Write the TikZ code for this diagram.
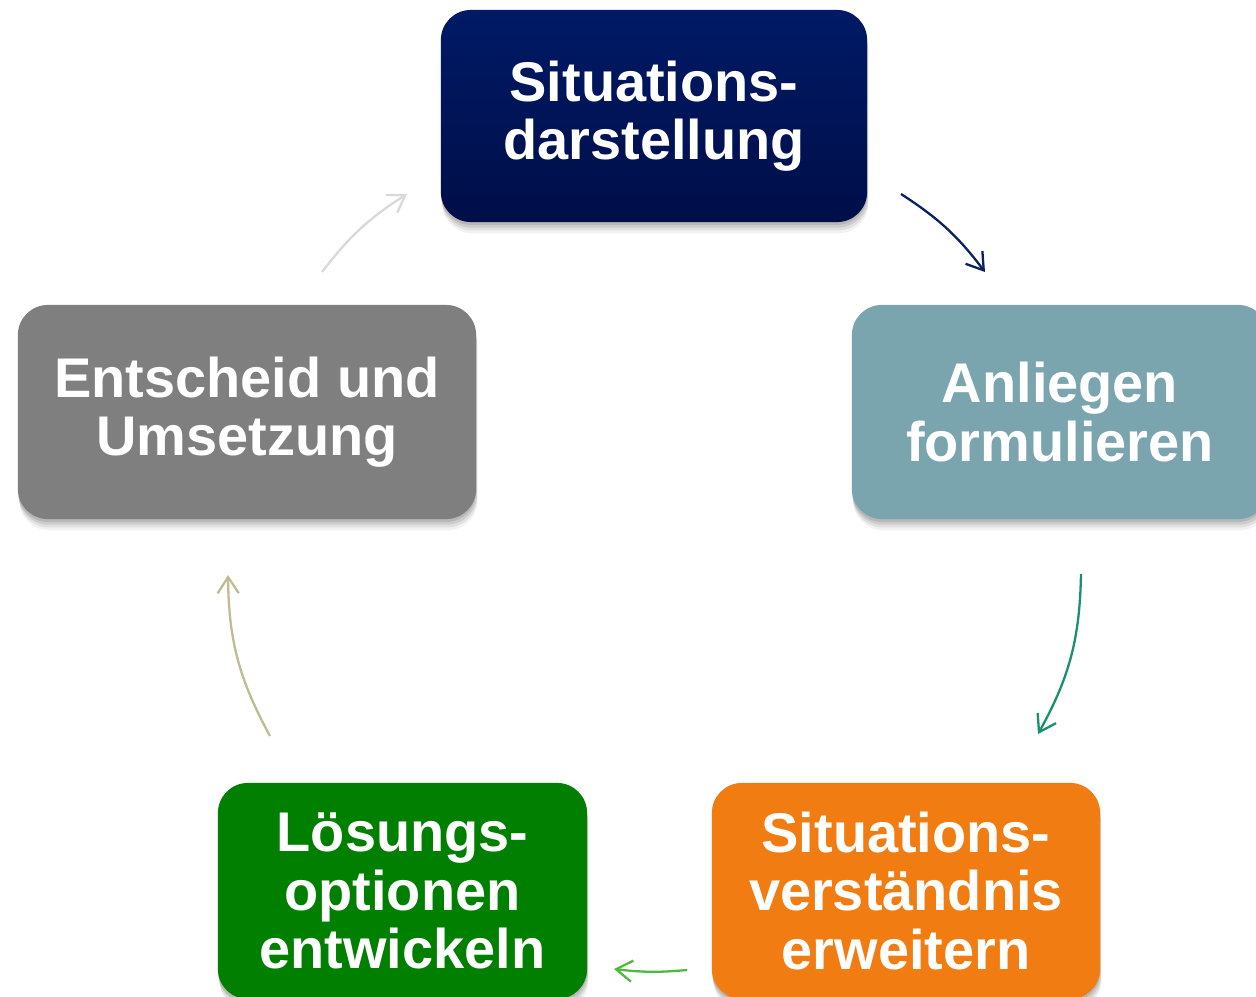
\documentclass[tikz,border=0pt]{standalone}
\usepackage{fontspec}
\setmainfont{Liberation Sans}
\usetikzlibrary{arrows.meta,shadows}
\definecolor{navytop}{HTML}{001A66}
\definecolor{navybot}{HTML}{000E48}
\definecolor{tealbox}{HTML}{7BA5AE}
\definecolor{orangebox}{HTML}{F07C12}
\definecolor{greenbox}{HTML}{007F00}
\definecolor{graybox}{HTML}{7F7F7F}
\definecolor{arrnavy}{HTML}{0B215F}
\definecolor{arrteal}{HTML}{1A9070}
\definecolor{arrgreen}{HTML}{4DBA3F}
\definecolor{arrkhaki}{HTML}{C0BC92}
\definecolor{arrgray}{HTML}{D9D9D9}
\tikzset{
  softshadow/.style={
    drop shadow={shadow xshift=0pt, shadow yshift=-0.8pt, opacity=0.10, fill=black},
    drop shadow={shadow xshift=0.2pt, shadow yshift=-1.6pt, opacity=0.09, fill=black},
    drop shadow={shadow xshift=0.3pt, shadow yshift=-2.4pt, opacity=0.07, fill=black},
    drop shadow={shadow xshift=0.4pt, shadow yshift=-3.2pt, opacity=0.05, fill=black}},
  stagebox/.style={rectangle, rounded corners=0.3cm, text=white,
    font=\fontsize{15.9pt}{16.6pt}\selectfont\bfseries, align=center,
    inner sep=0pt, softshadow},
  cyc/.style={line width=0.65pt, -{Straight Barb[length=4.6pt,width=6pt,line width=0.65pt]}},
}
\begin{document}
\begin{tikzpicture}[x=0.01cm,y=-0.01cm]
\useasboundingbox (0,0) rectangle (1256,997);
\clip (0,0) rectangle (1256,997);
\fill[white] (0,0) rectangle (1256,997);
% boxes
\node[stagebox, minimum width=4.26cm, minimum height=2.12cm, top color=navytop, bottom color=navybot] (s1) at (654,116) {Situations-\\darstellung};
\node[stagebox, minimum width=4.16cm, minimum height=2.14cm, fill=tealbox] (s2) at (1060,412) {Anliegen\\formulieren};
\node[stagebox, minimum width=3.88cm, minimum height=2.16cm, fill=orangebox] (s3) at (906,891) {Situations-\\verständnis\\erweitern};
\node[stagebox, minimum width=3.69cm, minimum height=2.16cm, fill=greenbox] (s4) at (402.5,891) {Lösungs-\\optionen\\entwickeln};
\node[stagebox, minimum width=4.58cm, minimum height=2.14cm, fill=graybox] (s5) at (247,412) {Entscheid und\\Umsetzung};
% arrow end points
\coordinate (a1s) at (901,194);
\coordinate (a1e) at (985,272);
\coordinate (a2s) at (1081,574);
\coordinate (a2e) at (1038,734);
\coordinate (a3s) at (687,970);
\coordinate (a3e) at (614,969);
\coordinate (a4s) at (270,736);
\coordinate (a4e) at (228,575);
\coordinate (a5s) at (322,272);
\coordinate (a5e) at (407,194);
\draw[cyc, arrnavy] (a1s) to[bend left=10] (a1e);
\draw[cyc, arrteal] (a2s) to[bend left=14] (a2e);
\draw[cyc, arrgreen] (a3s) to[bend left=6] (a3e);
\draw[cyc, arrkhaki] (a4s) to[bend left=14] (a4e);
\draw[cyc, arrgray] (a5s) to[bend left=10] (a5e);
\end{tikzpicture}
\end{document}
